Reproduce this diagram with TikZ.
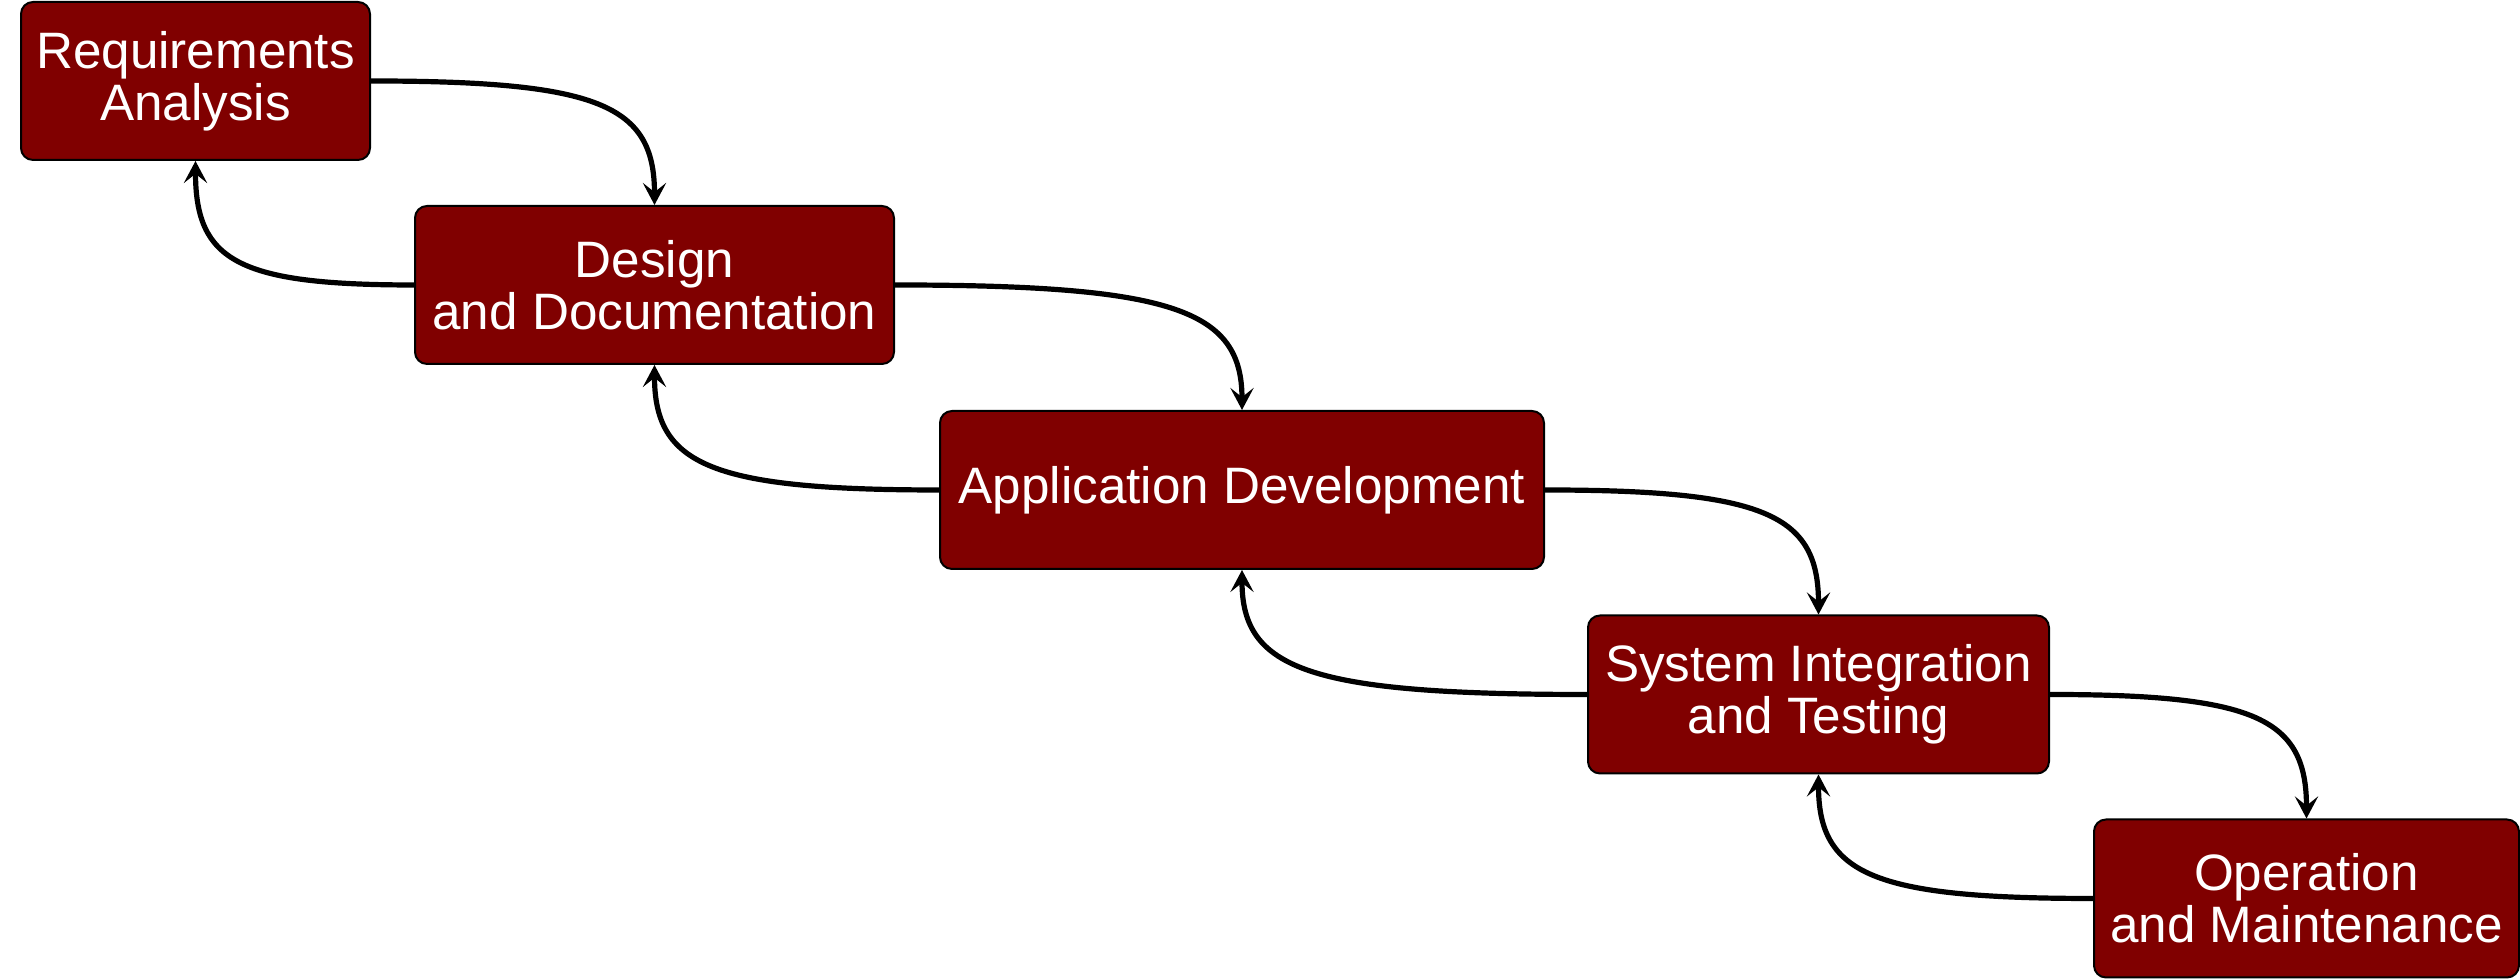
\documentclass[tikz,border=0pt]{standalone}
\usepackage{fontspec}
\setmainfont{Liberation Sans}
\usetikzlibrary{arrows.meta}
\definecolor{stagered}{HTML}{800000}
\begin{document}
\begin{tikzpicture}[x=0.25pt,y=-0.25pt,
  stage/.style={draw=black, line width=0.5pt, fill=stagered, rounded corners=3pt,
    text=white, align=center, inner sep=0pt, minimum height=39.5pt,
    font=\fontsize{12.8}{13}\selectfont},
  conn/.style={line width=1.3pt, -{Stealth[length=5.5pt,width=5.8pt,inset=2.3pt]}}]
\useasboundingbox (0,0) rectangle (2520,980);
\node[stage, minimum width=87.25pt] (req) at (195.5,81) {Requirements\\Analysis};
\node[stage, minimum width=119.75pt] (des) at (654.5,285) {Design\\and Documentation};
\node[stage, minimum width=151pt] (app) at (1242,490) {Application Development};
\node[stage, minimum width=115.25pt] (sys) at (1818.5,694.5) {System Integration\\and Testing};
\node[stage, minimum width=106.25pt] (ope) at (2306.5,898.5) {Operation\\and Maintenance};
% forward
\draw[conn] (req.east) .. controls +(228,0) and +(0,-100) .. (des.north);
\draw[conn] (des.east) .. controls +(278,0) and +(0,-100) .. (app.north);
\draw[conn] (app.east) .. controls +(220,0) and +(0,-100) .. (sys.north);
\draw[conn] (sys.east) .. controls +(206,0) and +(0,-100) .. (ope.north);
% backward
\draw[conn] (des.west) .. controls +(-176,0) and +(0,100) .. (req.south);
\draw[conn] (app.west) .. controls +(-228,0) and +(0,100) .. (des.south);
\draw[conn] (sys.west) .. controls +(-277,0) and +(0,100) .. (app.south);
\draw[conn] (ope.west) .. controls +(-220,0) and +(0,100) .. (sys.south);
\end{tikzpicture}
\end{document}
